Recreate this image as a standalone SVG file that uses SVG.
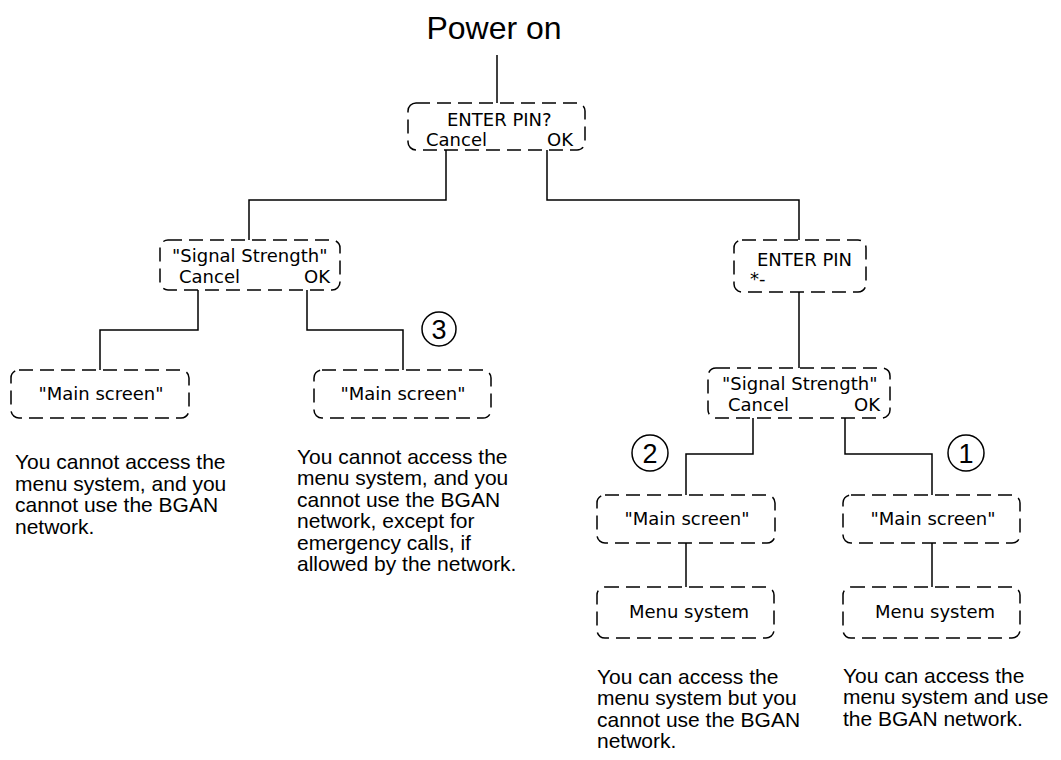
<svg xmlns="http://www.w3.org/2000/svg" width="1061" height="760" viewBox="0 0 1061 760">
<style>
.box{fill:none;stroke:#000;stroke-width:1.5;stroke-dasharray:14 7}
.bt{font-family:"DejaVu Sans",Verdana,sans-serif;font-size:18px;fill:#000}
.ds{font-family:"Liberation Sans",Arial,sans-serif;font-size:21px;fill:#000}
.ti{font-family:"Liberation Sans",Arial,sans-serif;font-size:32px;fill:#000}
.cn{fill:none;stroke:#000;stroke-width:1.5}
.cir{fill:none;stroke:#000;stroke-width:1.5}
.num{font-family:"Liberation Sans",Arial,sans-serif;font-size:27px;fill:#000;text-anchor:middle}
</style>
<rect width="1061" height="760" fill="#fff"/>
<g id="title"><text class="ti" x="494" y="39" text-anchor="middle">Power on</text></g>
<g id="connectors">
<path class="cn" d="M497,55 V103"/>
<path class="cn" d="M446,150 V200 H249 V240"/>
<path class="cn" d="M547,150 V200 H799 V240"/>
<path class="cn" d="M198,290 V330 H100 V370"/>
<path class="cn" d="M307,290 V330 H403 V370"/>
<path class="cn" d="M799,292 V368"/>
<path class="cn" d="M753,418 V454 H686 V495"/>
<path class="cn" d="M845,418 V454 H932 V495"/>
<path class="cn" d="M686,543 V587"/>
<path class="cn" d="M932,543 V587"/>
</g>
<g id="enter-pin-q">
<rect class="box" x="408" y="103" width="177" height="47" rx="8"/>
<text class="bt" x="447" y="126">ENTER PIN?</text>
<text class="bt" x="426" y="146">Cancel</text>
<text class="bt" x="573" y="146" text-anchor="end">OK</text>
</g>
<g id="signal-left">
<rect class="box" x="160" y="240" width="180" height="50" rx="8"/>
<text class="bt" x="172" y="262">"Signal Strength"</text>
<text class="bt" x="179" y="283">Cancel</text>
<text class="bt" x="330" y="283" text-anchor="end">OK</text>
</g>
<g id="enter-pin">
<rect class="box" x="734" y="240" width="132" height="52" rx="8"/>
<text class="bt" x="757" y="266">ENTER PIN</text>
<text class="bt" x="750" y="285">*-</text>
</g>
<g id="main-1">
<rect class="box" x="11" y="370" width="178" height="48" rx="8"/>
<text class="bt" x="101" y="400" text-anchor="middle">"Main screen"</text>
</g>
<g id="main-2">
<rect class="box" x="314" y="370" width="177" height="48" rx="8"/>
<text class="bt" x="403" y="400" text-anchor="middle">"Main screen"</text>
</g>
<g id="marker-3">
<circle class="cir" cx="439" cy="329" r="17"/>
<text class="num" x="439" y="339">3</text>
</g>
<g id="signal-right">
<rect class="box" x="708" y="368" width="182" height="50" rx="8"/>
<text class="bt" x="722" y="390">"Signal Strength"</text>
<text class="bt" x="728" y="411">Cancel</text>
<text class="bt" x="880" y="411" text-anchor="end">OK</text>
</g>
<g id="marker-2">
<circle class="cir" cx="650" cy="453" r="18"/>
<text class="num" x="650" y="463">2</text>
</g>
<g id="marker-1">
<circle class="cir" cx="966" cy="453" r="18"/>
<text class="num" x="966" y="463">1</text>
</g>
<g id="main-3">
<rect class="box" x="597" y="495" width="178" height="48" rx="8"/>
<text class="bt" x="687" y="525" text-anchor="middle">"Main screen"</text>
</g>
<g id="main-4">
<rect class="box" x="843" y="495" width="177" height="48" rx="8"/>
<text class="bt" x="933" y="525" text-anchor="middle">"Main screen"</text>
</g>
<g id="menu-1">
<rect class="box" x="597" y="587" width="177" height="51" rx="8"/>
<text class="bt" x="689" y="618" text-anchor="middle">Menu system</text>
</g>
<g id="menu-2">
<rect class="box" x="843" y="587" width="177" height="51" rx="8"/>
<text class="bt" x="935" y="618" text-anchor="middle">Menu system</text>
</g>
<g id="desc-1">
<text class="ds" x="15" y="469">You cannot access the</text>
<text class="ds" x="15" y="491">menu system, and you</text>
<text class="ds" x="15" y="512">cannot use the BGAN</text>
<text class="ds" x="15" y="534">network.</text>
</g>
<g id="desc-2">
<text class="ds" x="297" y="464">You cannot access the</text>
<text class="ds" x="297" y="485">menu system, and you</text>
<text class="ds" x="297" y="507">cannot use the BGAN</text>
<text class="ds" x="297" y="528">network, except for</text>
<text class="ds" x="297" y="550">emergency calls, if</text>
<text class="ds" x="297" y="571">allowed by the network.</text>
</g>
<g id="desc-3">
<text class="ds" x="597" y="684">You can access the</text>
<text class="ds" x="597" y="705">menu system but you</text>
<text class="ds" x="597" y="727">cannot use the BGAN</text>
<text class="ds" x="597" y="748">network.</text>
</g>
<g id="desc-4">
<text class="ds" x="843" y="683">You can access the</text>
<text class="ds" x="843" y="704">menu system and use</text>
<text class="ds" x="843" y="726">the BGAN network.</text>
</g>
</svg>
